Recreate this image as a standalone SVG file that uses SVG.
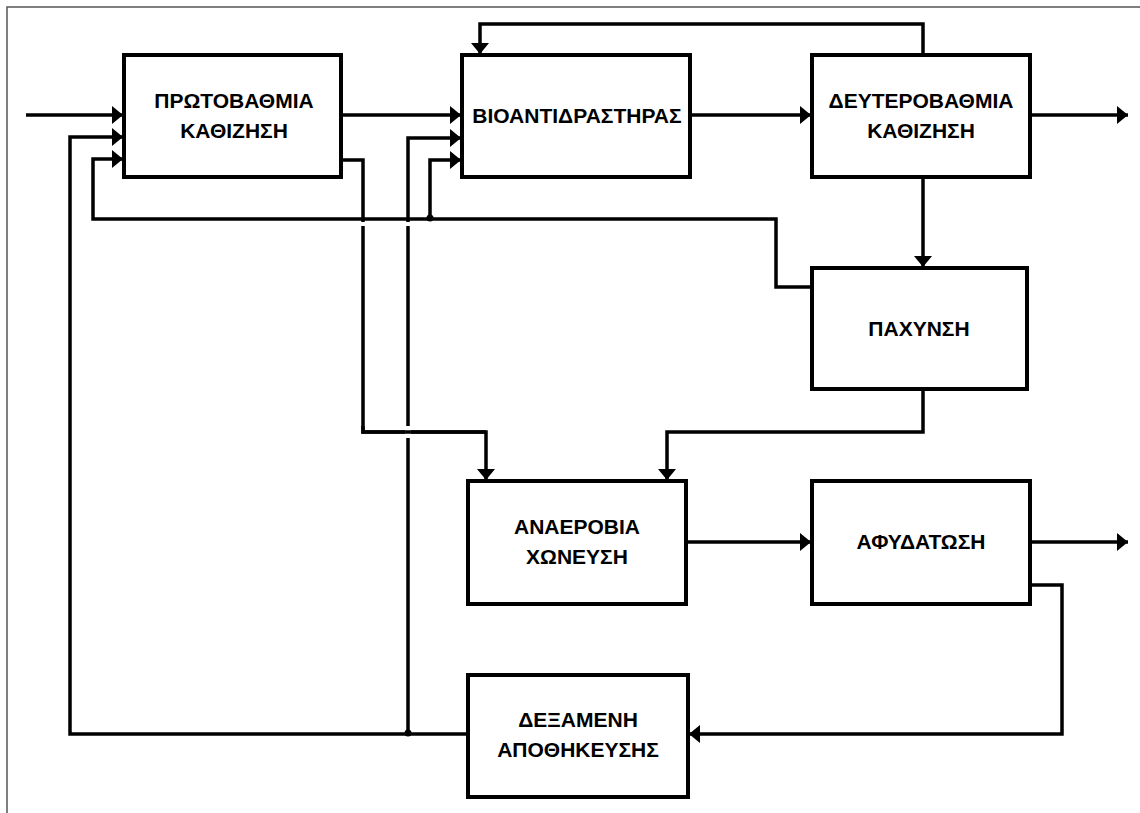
<svg xmlns="http://www.w3.org/2000/svg" width="1140" height="813" viewBox="0 0 1140 813">
<style>
.box{fill:#fff;stroke:#000;stroke-width:4}
.ln{fill:none;stroke:#000;stroke-width:3.5}
.gap{fill:none;stroke:#fff;stroke-width:6}
.lbl{font-family:"Liberation Sans",Arial,sans-serif;font-weight:bold;font-size:21px;fill:#000;text-anchor:middle}
</style>
<defs>
<marker id="ah" markerUnits="userSpaceOnUse" markerWidth="12" markerHeight="18" refX="11" refY="9" orient="auto">
<path d="M0,0 L11,9 L0,18 Z" fill="#000"/>
</marker>
</defs>
<rect width="1140" height="813" fill="#fff"/>
<path d="M7,813 V7 H1140" fill="none" stroke="#555" stroke-width="1.5"/>
<g id="connectors">
<path class="ln" d="M26,115 H123" marker-end="url(#ah)"/>
<path class="ln" d="M341,115 H461" marker-end="url(#ah)"/>
<path class="ln" d="M690,115 H811" marker-end="url(#ah)"/>
<path class="ln" d="M1030,115 H1128" marker-end="url(#ah)"/>
<path class="ln" d="M923,55 V24 H480 V54" marker-end="url(#ah)"/>
<path class="ln" d="M923,177 V267" marker-end="url(#ah)"/>
<path class="ln" d="M341,160 H363 V432 H486 V480" marker-end="url(#ah)"/>
<path class="ln" d="M468,734 H70 V137 H123" marker-end="url(#ah)"/>
<path class="ln" d="M408,734 V138 H461" marker-end="url(#ah)"/>
<line class="gap" x1="363" y1="222" x2="363" y2="226"/>
<line class="gap" x1="408" y1="222" x2="408" y2="226"/>
<line class="gap" x1="408" y1="426" x2="408" y2="438"/>
<path class="ln" d="M363,426 V432 H486"/>
<path class="ln" d="M812,287 H776 V219 H93 V159 H123" marker-end="url(#ah)"/>
<path class="ln" d="M430,219 V160 H461" marker-end="url(#ah)"/>
<path class="ln" d="M923,389 V432 H667 V480" marker-end="url(#ah)"/>
<path class="ln" d="M686,542 H811" marker-end="url(#ah)"/>
<path class="ln" d="M1030,542 H1128" marker-end="url(#ah)"/>
<path class="ln" d="M1030,585 H1062 V734 H689" marker-end="url(#ah)"/>
<circle cx="430" cy="218" r="3.5" fill="#000"/>
<circle cx="408" cy="733" r="3.5" fill="#000"/>
</g>
<g id="primary">
<rect class="box" x="124" y="55" width="217" height="122"/>
<text class="lbl" x="234" y="108">ΠΡΩΤΟΒΑΘΜΙΑ</text>
<text class="lbl" x="234" y="138">ΚΑΘΙΖΗΣΗ</text>
</g>
<g id="bioreactor">
<rect class="box" x="462" y="55" width="228" height="122"/>
<text class="lbl" x="577" y="123">ΒΙΟΑΝΤΙΔΡΑΣΤΗΡΑΣ</text>
</g>
<g id="secondary">
<rect class="box" x="812" y="55" width="218" height="122"/>
<text class="lbl" x="921" y="108">ΔΕΥΤΕΡΟΒΑΘΜΙΑ</text>
<text class="lbl" x="921" y="138">ΚΑΘΙΖΗΣΗ</text>
</g>
<g id="thickening">
<rect class="box" x="812" y="268" width="215" height="121"/>
<text class="lbl" x="919" y="336">ΠΑΧΥΝΣΗ</text>
</g>
<g id="anaerobic">
<rect class="box" x="468" y="481" width="218" height="123"/>
<text class="lbl" x="577" y="534">ΑΝΑΕΡΟΒΙΑ</text>
<text class="lbl" x="577" y="564">ΧΩΝΕΥΣΗ</text>
</g>
<g id="dewatering">
<rect class="box" x="812" y="481" width="218" height="123"/>
<text class="lbl" x="921" y="549">ΑΦΥΔΑΤΩΣΗ</text>
</g>
<g id="storage">
<rect class="box" x="468" y="675" width="220" height="122"/>
<text class="lbl" x="578" y="727">ΔΕΞΑΜΕΝΗ</text>
<text class="lbl" x="578" y="757">ΑΠΟΘΗΚΕΥΣΗΣ</text>
</g>
</svg>
